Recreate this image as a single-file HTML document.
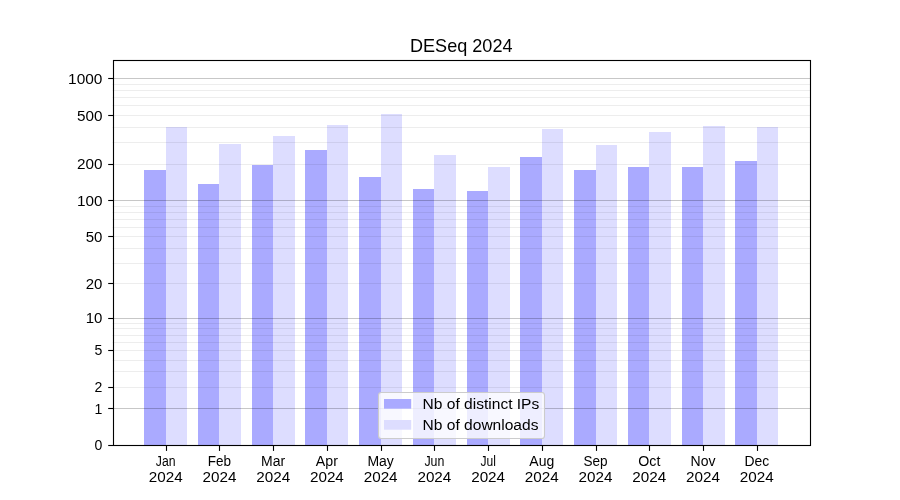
<!DOCTYPE html>
<html><head><meta charset="utf-8"><style>
html,body{margin:0;padding:0;background:#fff;width:900px;height:500px;overflow:hidden}
svg text{font-family:"Liberation Sans",sans-serif;font-size:13.889px;fill:#000}
</style></head><body>
<svg width="900" height="500" viewBox="0 0 900 500" style="display:block;will-change:transform">
<rect width="900" height="500" fill="#fff"/>
<rect x="144" y="170" width="22" height="275" fill="#aaaaff"/>
<rect x="166" y="127" width="21" height="318" fill="#ddddff"/>
<rect x="198" y="184" width="21" height="261" fill="#aaaaff"/>
<rect x="219" y="144" width="22" height="301" fill="#ddddff"/>
<rect x="252" y="165" width="21" height="280" fill="#aaaaff"/>
<rect x="273" y="136" width="22" height="309" fill="#ddddff"/>
<rect x="305" y="150" width="22" height="295" fill="#aaaaff"/>
<rect x="327" y="125" width="21" height="320" fill="#ddddff"/>
<rect x="359" y="177" width="22" height="268" fill="#aaaaff"/>
<rect x="381" y="114" width="21" height="331" fill="#ddddff"/>
<rect x="413" y="189" width="21" height="256" fill="#aaaaff"/>
<rect x="434" y="155" width="22" height="290" fill="#ddddff"/>
<rect x="467" y="191" width="21" height="254" fill="#aaaaff"/>
<rect x="488" y="167" width="22" height="278" fill="#ddddff"/>
<rect x="520" y="157" width="22" height="288" fill="#aaaaff"/>
<rect x="542" y="129" width="21" height="316" fill="#ddddff"/>
<rect x="574" y="170" width="22" height="275" fill="#aaaaff"/>
<rect x="596" y="145" width="21" height="300" fill="#ddddff"/>
<rect x="628" y="167" width="21" height="278" fill="#aaaaff"/>
<rect x="649" y="132" width="22" height="313" fill="#ddddff"/>
<rect x="682" y="167" width="21" height="278" fill="#aaaaff"/>
<rect x="703" y="126" width="22" height="319" fill="#ddddff"/>
<rect x="735" y="161" width="22" height="284" fill="#aaaaff"/>
<rect x="757" y="127" width="21" height="318" fill="#ddddff"/>
<line x1="112.5" x2="810.0" y1="387.50" y2="387.50" stroke="#000" stroke-opacity="0.07" stroke-width="1.1"/>
<line x1="112.5" x2="810.0" y1="371.50" y2="371.50" stroke="#000" stroke-opacity="0.07" stroke-width="1.1"/>
<line x1="112.5" x2="810.0" y1="360.50" y2="360.50" stroke="#000" stroke-opacity="0.07" stroke-width="1.1"/>
<line x1="112.5" x2="810.0" y1="350.50" y2="350.50" stroke="#000" stroke-opacity="0.07" stroke-width="1.1"/>
<line x1="112.5" x2="810.0" y1="342.50" y2="342.50" stroke="#000" stroke-opacity="0.07" stroke-width="1.1"/>
<line x1="112.5" x2="810.0" y1="335.50" y2="335.50" stroke="#000" stroke-opacity="0.07" stroke-width="1.1"/>
<line x1="112.5" x2="810.0" y1="328.50" y2="328.50" stroke="#000" stroke-opacity="0.07" stroke-width="1.1"/>
<line x1="112.5" x2="810.0" y1="323.50" y2="323.50" stroke="#000" stroke-opacity="0.07" stroke-width="1.1"/>
<line x1="112.5" x2="810.0" y1="283.50" y2="283.50" stroke="#000" stroke-opacity="0.07" stroke-width="1.1"/>
<line x1="112.5" x2="810.0" y1="263.50" y2="263.50" stroke="#000" stroke-opacity="0.07" stroke-width="1.1"/>
<line x1="112.5" x2="810.0" y1="248.50" y2="248.50" stroke="#000" stroke-opacity="0.07" stroke-width="1.1"/>
<line x1="112.5" x2="810.0" y1="236.50" y2="236.50" stroke="#000" stroke-opacity="0.07" stroke-width="1.1"/>
<line x1="112.5" x2="810.0" y1="227.50" y2="227.50" stroke="#000" stroke-opacity="0.07" stroke-width="1.1"/>
<line x1="112.5" x2="810.0" y1="219.50" y2="219.50" stroke="#000" stroke-opacity="0.07" stroke-width="1.1"/>
<line x1="112.5" x2="810.0" y1="212.50" y2="212.50" stroke="#000" stroke-opacity="0.07" stroke-width="1.1"/>
<line x1="112.5" x2="810.0" y1="206.50" y2="206.50" stroke="#000" stroke-opacity="0.07" stroke-width="1.1"/>
<line x1="112.5" x2="810.0" y1="164.50" y2="164.50" stroke="#000" stroke-opacity="0.07" stroke-width="1.1"/>
<line x1="112.5" x2="810.0" y1="142.50" y2="142.50" stroke="#000" stroke-opacity="0.07" stroke-width="1.1"/>
<line x1="112.5" x2="810.0" y1="127.50" y2="127.50" stroke="#000" stroke-opacity="0.07" stroke-width="1.1"/>
<line x1="112.5" x2="810.0" y1="115.50" y2="115.50" stroke="#000" stroke-opacity="0.07" stroke-width="1.1"/>
<line x1="112.5" x2="810.0" y1="105.50" y2="105.50" stroke="#000" stroke-opacity="0.07" stroke-width="1.1"/>
<line x1="112.5" x2="810.0" y1="97.50" y2="97.50" stroke="#000" stroke-opacity="0.07" stroke-width="1.1"/>
<line x1="112.5" x2="810.0" y1="90.50" y2="90.50" stroke="#000" stroke-opacity="0.07" stroke-width="1.1"/>
<line x1="112.5" x2="810.0" y1="84.50" y2="84.50" stroke="#000" stroke-opacity="0.07" stroke-width="1.1"/>
<line x1="112.5" x2="810.0" y1="408.50" y2="408.50" stroke="#000" stroke-opacity="0.22" stroke-width="1.1"/>
<line x1="112.5" x2="810.0" y1="318.50" y2="318.50" stroke="#000" stroke-opacity="0.22" stroke-width="1.1"/>
<line x1="112.5" x2="810.0" y1="200.50" y2="200.50" stroke="#000" stroke-opacity="0.22" stroke-width="1.1"/>
<line x1="112.5" x2="810.0" y1="78.50" y2="78.50" stroke="#000" stroke-opacity="0.22" stroke-width="1.1"/>
<rect x="113.5" y="60.5" width="697" height="385" fill="none" stroke="#000" stroke-width="1.11"/>
<line x1="108.2" x2="113.5" y1="445.50" y2="445.50" stroke="#000" stroke-width="1.11"/>
<text x="102.45" y="450" text-anchor="end" textLength="7.83" lengthAdjust="spacingAndGlyphs">0</text>
<line x1="108.2" x2="113.5" y1="408.50" y2="408.50" stroke="#000" stroke-width="1.11"/>
<text x="102.45" y="414" text-anchor="end" textLength="7.83" lengthAdjust="spacingAndGlyphs">1</text>
<line x1="108.2" x2="113.5" y1="387.50" y2="387.50" stroke="#000" stroke-width="1.11"/>
<text x="102.45" y="392" text-anchor="end" textLength="7.83" lengthAdjust="spacingAndGlyphs">2</text>
<line x1="108.2" x2="113.5" y1="350.50" y2="350.50" stroke="#000" stroke-width="1.11"/>
<text x="102.45" y="355" text-anchor="end" textLength="7.83" lengthAdjust="spacingAndGlyphs">5</text>
<line x1="108.2" x2="113.5" y1="318.50" y2="318.50" stroke="#000" stroke-width="1.11"/>
<text x="102.45" y="323" text-anchor="end" textLength="16.67" lengthAdjust="spacingAndGlyphs">10</text>
<line x1="108.2" x2="113.5" y1="283.50" y2="283.50" stroke="#000" stroke-width="1.11"/>
<text x="102.45" y="289" text-anchor="end" textLength="16.67" lengthAdjust="spacingAndGlyphs">20</text>
<line x1="108.2" x2="113.5" y1="236.50" y2="236.50" stroke="#000" stroke-width="1.11"/>
<text x="102.45" y="242" text-anchor="end" textLength="16.67" lengthAdjust="spacingAndGlyphs">50</text>
<line x1="108.2" x2="113.5" y1="200.50" y2="200.50" stroke="#000" stroke-width="1.11"/>
<text x="102.45" y="206" text-anchor="end" textLength="25.50" lengthAdjust="spacingAndGlyphs">100</text>
<line x1="108.2" x2="113.5" y1="164.50" y2="164.50" stroke="#000" stroke-width="1.11"/>
<text x="102.45" y="169" text-anchor="end" textLength="25.50" lengthAdjust="spacingAndGlyphs">200</text>
<line x1="108.2" x2="113.5" y1="115.50" y2="115.50" stroke="#000" stroke-width="1.11"/>
<text x="102.45" y="121" text-anchor="end" textLength="25.50" lengthAdjust="spacingAndGlyphs">500</text>
<line x1="108.2" x2="113.5" y1="78.50" y2="78.50" stroke="#000" stroke-width="1.11"/>
<text x="102.45" y="84" text-anchor="end" textLength="34.33" lengthAdjust="spacingAndGlyphs">1000</text>
<line x1="166.5" x2="166.5" y1="445.5" y2="450.9" stroke="#000" stroke-width="1.11"/>
<text x="165.70" y="465.8" text-anchor="middle" textLength="19.70" lengthAdjust="spacingAndGlyphs">Jan</text>
<text x="165.70" y="481.8" text-anchor="middle" textLength="33.92" lengthAdjust="spacingAndGlyphs">2024</text>
<line x1="219.5" x2="219.5" y1="445.5" y2="450.9" stroke="#000" stroke-width="1.11"/>
<text x="219.44" y="465.8" text-anchor="middle" textLength="23.32" lengthAdjust="spacingAndGlyphs">Feb</text>
<text x="219.44" y="481.8" text-anchor="middle" textLength="33.92" lengthAdjust="spacingAndGlyphs">2024</text>
<line x1="273.5" x2="273.5" y1="445.5" y2="450.9" stroke="#000" stroke-width="1.11"/>
<text x="273.17" y="465.8" text-anchor="middle" textLength="24.11" lengthAdjust="spacingAndGlyphs">Mar</text>
<text x="273.17" y="481.8" text-anchor="middle" textLength="33.92" lengthAdjust="spacingAndGlyphs">2024</text>
<line x1="327.5" x2="327.5" y1="445.5" y2="450.9" stroke="#000" stroke-width="1.11"/>
<text x="326.91" y="465.8" text-anchor="middle" textLength="22.11" lengthAdjust="spacingAndGlyphs">Apr</text>
<text x="326.91" y="481.8" text-anchor="middle" textLength="33.92" lengthAdjust="spacingAndGlyphs">2024</text>
<line x1="381.5" x2="381.5" y1="445.5" y2="450.9" stroke="#000" stroke-width="1.11"/>
<text x="380.65" y="465.8" text-anchor="middle" textLength="26.42" lengthAdjust="spacingAndGlyphs">May</text>
<text x="380.65" y="481.8" text-anchor="middle" textLength="33.92" lengthAdjust="spacingAndGlyphs">2024</text>
<line x1="434.5" x2="434.5" y1="445.5" y2="450.9" stroke="#000" stroke-width="1.11"/>
<text x="434.38" y="465.8" text-anchor="middle" textLength="19.97" lengthAdjust="spacingAndGlyphs">Jun</text>
<text x="434.38" y="481.8" text-anchor="middle" textLength="33.92" lengthAdjust="spacingAndGlyphs">2024</text>
<line x1="488.5" x2="488.5" y1="445.5" y2="450.9" stroke="#000" stroke-width="1.11"/>
<text x="488.12" y="465.8" text-anchor="middle" textLength="15.42" lengthAdjust="spacingAndGlyphs">Jul</text>
<text x="488.12" y="481.8" text-anchor="middle" textLength="33.92" lengthAdjust="spacingAndGlyphs">2024</text>
<line x1="542.5" x2="542.5" y1="445.5" y2="450.9" stroke="#000" stroke-width="1.11"/>
<text x="541.85" y="465.8" text-anchor="middle" textLength="24.96" lengthAdjust="spacingAndGlyphs">Aug</text>
<text x="541.85" y="481.8" text-anchor="middle" textLength="33.92" lengthAdjust="spacingAndGlyphs">2024</text>
<line x1="596.5" x2="596.5" y1="445.5" y2="450.9" stroke="#000" stroke-width="1.11"/>
<text x="595.59" y="465.8" text-anchor="middle" textLength="24.09" lengthAdjust="spacingAndGlyphs">Sep</text>
<text x="595.59" y="481.8" text-anchor="middle" textLength="33.92" lengthAdjust="spacingAndGlyphs">2024</text>
<line x1="649.5" x2="649.5" y1="445.5" y2="450.9" stroke="#000" stroke-width="1.11"/>
<text x="649.33" y="465.8" text-anchor="middle" textLength="22.09" lengthAdjust="spacingAndGlyphs">Oct</text>
<text x="649.33" y="481.8" text-anchor="middle" textLength="33.92" lengthAdjust="spacingAndGlyphs">2024</text>
<line x1="703.5" x2="703.5" y1="445.5" y2="450.9" stroke="#000" stroke-width="1.11"/>
<text x="703.06" y="465.8" text-anchor="middle" textLength="24.94" lengthAdjust="spacingAndGlyphs">Nov</text>
<text x="703.06" y="481.8" text-anchor="middle" textLength="33.92" lengthAdjust="spacingAndGlyphs">2024</text>
<line x1="757.5" x2="757.5" y1="445.5" y2="450.9" stroke="#000" stroke-width="1.11"/>
<text x="756.80" y="465.8" text-anchor="middle" textLength="24.73" lengthAdjust="spacingAndGlyphs">Dec</text>
<text x="756.80" y="481.8" text-anchor="middle" textLength="33.92" lengthAdjust="spacingAndGlyphs">2024</text>
<text x="461.25" y="51.67" text-anchor="middle" style="font-size:17.9px" textLength="102.49" lengthAdjust="spacingAndGlyphs">DESeq 2024</text>
<rect x="378.5" y="392.5" width="166" height="46" rx="2.8" fill="#fff" fill-opacity="0.8" stroke="#cccccc" stroke-width="1.1"/>
<rect x="384" y="399" width="27.2" height="9.7" fill="#aaaaff"/>
<rect x="384" y="420" width="27.2" height="9.7" fill="#ddddff"/>
<text x="422.6" y="409" textLength="116.67" lengthAdjust="spacingAndGlyphs">Nb of distinct IPs</text>
<text x="422.6" y="430" textLength="115.85" lengthAdjust="spacingAndGlyphs">Nb of downloads</text>
</svg>
</body></html>
